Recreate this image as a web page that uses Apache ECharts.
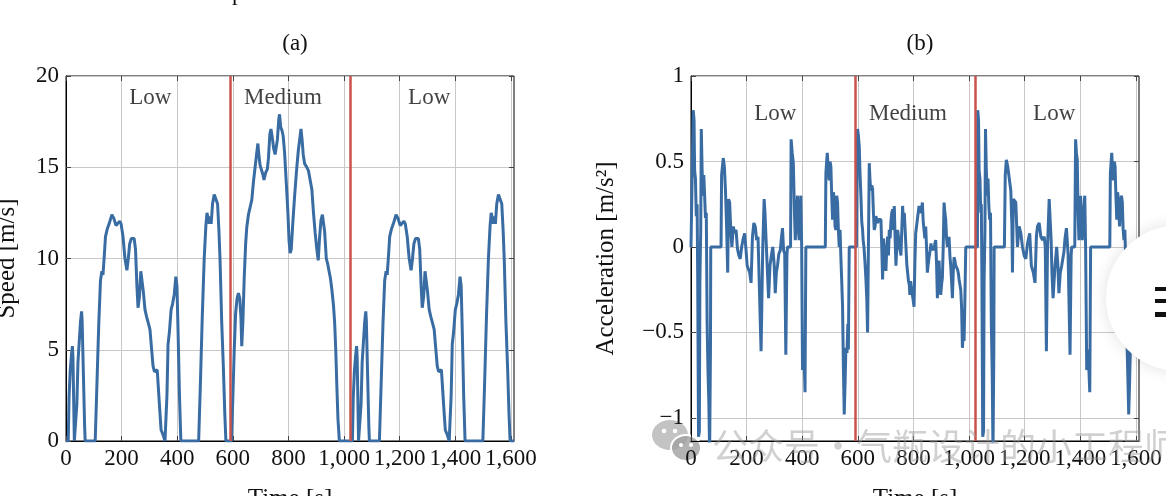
<!DOCTYPE html>
<html><head><meta charset="utf-8">
<script src="https://cdn.jsdelivr.net/npm/echarts@6/dist/echarts.min.js"></script>
<style>html,body{margin:0;padding:0;background:#fff}#c{width:1166px;height:496px}</style>
</head><body><div id="c"></div>
<script>
// ---------- data ----------
const speedTime = [0,8,11,15,19,23,25,30,36,39,43,47,52,56,58,62,67,69,
105,112,118,124,129,133,137,142,148,155,165,172,180,186,193,198,205,212,219,224,229,235,245,250,255,259,264,269,273,278,284,290,297,302,308,313,318,323,328,333,338,342,350,356,
359,363,367,372,378,383,389,395,399,403,408,413,
477,483,490,497,503,507,511,515,518,522,527,533,540,545,550,554,560,566,571,575,
595,600,605,610,615,620,625,629,632,636,641,646,650,656,662,668,674,680,686,690,694,698,703,708,712,718,724,728,733,737,742,747,752,756,760,765,768,772,777,781,786,792,798,802,806,810,815,822,830,836,841,845,849,853,858,866,872,879,884,890,896,902,907,912,917,922,926,930,936,941,946,951,956,962,966,970,974,978,983,
1030,1033,1037,1041,1045,1047,1052,1058,1061,1065,1069,1074,1078,1080,1084,1089,1091,
1127,1134,1140,1146,1151,1155,1159,1164,1170,1177,1187,1194,1202,1208,1215,1220,1227,1234,1241,1246,1251,1257,1267,1272,1277,1281,1286,1291,1295,1300,1306,1312,1319,1324,1330,1335,1340,1345,1350,1355,1360,1364,1372,1378,
1381,1385,1389,1394,1400,1405,1411,1417,1421,1425,1430,1435,
1499,1505,1512,1519,1525,1529,1533,1537,1540,1544,1549,1555,1562,1567,1572,1576,1582,1588,1593,1597,1611];
const speedValue = [0,0,2.4,3.8,4.6,5.2,4.6,0,0,2.0,4.3,5.3,6.5,7.1,6.6,4.0,0.8,0,
0,3.5,6.5,8.8,9.3,9.1,10.0,11.2,11.6,11.9,12.4,12.2,11.8,11.9,12.05,11.9,11.2,10.0,9.35,10.0,10.8,11.1,11.1,10.5,8.5,7.3,7.9,9.3,9.4,8.2,7.2,6.8,6.4,6.1,5.0,4.1,3.8,3.7,3.9,3.8,1.5,0.6,0.3,0,
0,2.5,5.3,6.0,7.2,7.5,8.0,9.0,8.5,6.0,2.5,0,
0,3.0,6.8,10.0,11.8,12.5,12.4,11.9,12.3,11.9,13.0,13.5,13.5,13.0,11.5,9.9,6.5,4.0,1.5,0,
0,2.4,5.0,7.0,7.8,8.1,7.8,6.8,5.2,6.5,9.0,10.8,11.7,12.4,12.8,13.2,14.2,15.0,15.8,16.3,15.6,15.1,15.0,14.6,14.3,14.7,14.9,15.5,16.8,17.1,16.6,16.0,15.7,15.7,16.5,17.6,17.9,17.2,17.0,16.7,15.8,14.2,12.5,11.0,10.3,10.5,11.8,13.4,15.0,16.0,16.6,17.1,16.5,15.7,15.2,15.0,14.8,14.7,13.8,12.5,11.4,10.5,9.9,11.2,12.1,12.4,12.3,11.5,10.0,9.7,9.3,8.9,8.3,7.4,6.5,5.0,3.0,1.2,0,
0,2.4,3.8,4.6,5.2,4.6,0,0,2.0,4.3,5.3,6.5,7.1,6.6,4.0,0.8,0,
0,3.5,6.5,8.8,9.3,9.1,10.0,11.2,11.6,11.9,12.4,12.2,11.8,11.9,12.05,11.9,11.2,10.0,9.35,10.0,10.8,11.1,11.1,10.5,8.5,7.3,7.9,9.3,9.4,8.2,7.2,6.8,6.4,6.1,5.0,4.1,3.8,3.7,3.9,3.8,1.5,0.6,0.3,0,
0,2.5,5.3,6.0,7.2,7.5,8.0,9.0,8.5,6.0,2.5,0,
0,3.0,6.8,10.0,11.8,12.5,12.4,11.9,12.3,11.9,13.0,13.5,13.5,13.0,11.5,9.9,6.5,4.0,1.5,0,0];

const accelTime = [0,7,8,11,13,16,19,22,24,27,30,32,35,37,40,43,46,49,52,55,58,61,64,67,70,71,108,
110,116,120,124,128,132,135,139,143,147,152,157,162,167,172,177,182,188,193,198,202,207,211,216,221,226,231,236,241,246,252,258,263,266,270,275,279,284,289,294,299,303,307,311,316,321,325,329,333,337,341,345,347,358,
360,364,368,372,375,379,383,386,389,392,395,398,401,406,410,413,483,
485,490,494,497,500,503,506,509,512,515,518,521,524,527,530,533,536,539,542,545,548,551,554,557,561,564,566,569,595,
596,599,602,605,608,611,614,617,619,622,626,629,632,635,638,641,644,647,650,653,656,659,662,665,668,671,674,677,680,683,686,689,692,695,698,701,704,707,710,713,716,719,722,725,728,731,734,737,740,743,746,749,752,755,758,761,764,767,770,773,776,779,782,785,787,790,794,798,802,805,808,811,814,817,820,823,826,829,832,835,838,841,844,847,850,853,856,860,863,866,870,874,877,880,883,886,889,892,895,898,901,904,907,910,913,916,919,922,925,928,931,934,937,940,943,946,949,952,955,958,961,964,967,970,973,976,979,982,985,988,1030,
1031,1034,1036,1039,1042,1044,1046,1049,1052,1054,1057,1059,1062,1065,1068,1071,1074,1077,1080,1083,1086,1089,1090,1127,
1130,1134,1139,1144,1150,1154,1156,1159,1162,1168,1174,1180,1186,1192,1198,1204,1210,1218,1224,1231,1237,1242,1246,1252,1258,1264,1270,1274,1278,1282,1288,1295,1298,1302,1309,1315,1319,1323,1328,1333,1341,1345,1350,1356,1363,1367,1369,1380,
1383,1386,1389,1392,1395,1398,1401,1404,1407,1411,1416,1419,1423,1428,1434,1437,1506,
1508,1513,1516,1519,1522,1525,1528,1531,1534,1537,1541,1545,1548,1551,1554,1557,1560,1563,1565,1570,1574,1577,1580,1584,1586,1588,1591,1611];
const accelValue = [0,0,0.80,0.74,0.45,0.40,0.18,0.25,-0.15,-1.11,-1.08,-0.2,0.1,0.69,0.45,0.30,0.42,0.30,0.17,0.2,-0.45,-0.72,-0.9,-1.2,-0.6,0,0,
0.42,0.52,0.47,0.33,0.12,-0.15,0.28,0.26,0.10,0.0,0.12,0.08,0.1,-0.01,-0.05,-0.07,0.0,0.05,0.08,-0.02,-0.11,-0.12,-0.15,-0.21,0.06,0.14,0.12,0.04,0.06,0.05,-0.61,0.0,0.28,0.2,0.04,-0.15,-0.3,-0.11,-0.05,0.0,-0.1,-0.27,-0.15,-0.11,-0.04,-0.02,0.05,0.11,-0.02,-0.04,-0.63,-0.05,0,0,
0.63,0.55,0.49,0.2,0.04,0.2,0.3,0.1,0.04,0.2,0.3,0.0,-0.72,-0.6,-0.85,0,0,
0.43,0.55,0.45,0.39,0.5,0.47,0.3,0.16,0.32,0.28,0.12,0.1,0.3,0.26,0.1,0.0,0.1,-0.06,-0.2,-0.35,-0.7,-0.98,-0.8,-0.59,-0.62,-0.45,-0.6,0,0,
0.3,0.69,0.65,0.59,0.42,0.3,0.15,0.1,0.04,0.0,-0.1,-0.19,-0.3,-0.5,0.0,0.49,0.38,0.33,0.36,0.34,0.2,0.1,0.12,0.18,0.16,0.14,0.16,0.16,0.17,0.16,0.0,-0.19,0.05,-0.04,-0.08,-0.14,0.0,0.06,-0.05,0.1,0.05,0.15,0.2,0.22,0.1,0.24,0.05,-0.11,0.0,0.1,0.06,0.0,-0.02,-0.05,0.1,0.24,0.12,0.2,0.1,0.0,-0.1,-0.15,-0.2,-0.22,-0.28,-0.2,-0.26,-0.3,-0.35,-0.1,0.08,0.12,0.16,0.2,0.24,0.2,0.2,0.22,0.26,0.15,0.1,0.05,0.12,0.0,-0.15,-0.1,-0.06,-0.02,0.02,-0.02,0.0,-0.02,0.02,0.04,-0.1,-0.3,-0.12,-0.08,-0.2,-0.28,-0.22,-0.18,0.0,0.26,0.2,0.16,0.05,0.0,0.03,0.06,-0.05,-0.11,-0.2,-0.3,-0.15,-0.06,-0.08,-0.11,-0.1,-0.13,-0.15,-0.19,-0.22,-0.25,-0.35,-0.59,-0.5,-0.55,-0.3,0,0,
0.80,0.74,0.45,0.40,0.2,0.25,-0.15,-1.11,-1.08,-0.2,0.1,0.69,0.45,0.3,0.4,0.24,0.16,0.2,-0.45,-0.72,-1.2,-0.6,0,0,
0.42,0.51,0.47,0.47,0.33,0.12,-0.15,0.28,0.28,0.26,0.0,0.12,0.08,0.0,-0.05,-0.07,0.02,0.08,-0.11,-0.15,-0.21,0.06,0.12,0.14,0.06,0.04,0.06,0.0,-0.61,0.0,0.28,0.04,-0.15,-0.3,-0.11,0.0,-0.1,-0.27,-0.15,-0.11,-0.03,0.05,0.11,-0.04,-0.63,-0.05,0,0,
0.63,0.55,0.51,0.2,0.04,0.2,0.3,0.1,0.04,0.2,0.3,0.0,-0.72,-0.6,-0.85,0,0,
0.43,0.55,0.45,0.39,0.5,0.47,0.3,0.16,0.32,0.28,0.12,0.24,0.3,0.26,0.1,0.04,0.1,-0.06,-0.35,-0.7,-0.98,-0.8,-0.59,-0.62,-0.45,-0.6,0,0];

const phaseBounds = [589, 1022];
const phaseNames = ['Low', 'Medium', 'Low'];
const phaseLabelTime = [303, 780, 1306];
const speedLabelY = 18.8;
const accelLabelY = 0.78;
const timeTicks = [0, 200, 400, 600, 800, 1000, 1200, 1400, 1600];
const speedTicks = [0, 5, 10, 15, 20];
const accelTicks = [-1, -0.5, 0, 0.5, 1];
const panelTitles = ['(a)', '(b)'];

// ---------- chart ----------
const FONT = 'Liberation Serif';
const BLUE = '#3a6ca4';
const RED = '#c9524b';
const GRID = '#c8c8c8';
const fmtNum = v => {
  const s = Math.abs(v) >= 1000 ? Math.round(v).toLocaleString('en-US') : String(v);
  return s.replace('-', '\u2212');
};
const pairs = (xs, ys) => xs.map((t, i) => [t, ys[i]]);

function xAx(grid, top) {
  return {
    type: 'value', gridIndex: grid, min: 0, max: 1611, position: top ? 'top' : 'bottom',
    axisLine: { show: !top, onZero: false, lineStyle: { color: '#000', width: 1 } },
    axisTick: { show: true, inside: true, length: 5, customValues: timeTicks, lineStyle: { color: '#444' } },
    axisLabel: { show: !top, customValues: timeTicks, formatter: fmtNum, fontFamily: FONT, fontSize: 23, color: '#111', margin: 6 },
    splitLine: { show: !top, lineStyle: { color: GRID, width: 1 } },
    name: top ? '' : 'Time [s]', nameLocation: 'middle', nameGap: 46,
    nameTextStyle: { fontFamily: FONT, fontSize: 25, color: '#111' }
  };
}
function yAx(grid, right, min, max, ticks, name, gap) {
  return {
    type: 'value', gridIndex: grid, min: min, max: max, position: right ? 'right' : 'left',
    axisLine: { show: !right, onZero: false, lineStyle: { color: '#000', width: 1 } },
    axisTick: { show: true, inside: true, length: 5, customValues: ticks, lineStyle: { color: '#444' } },
    axisLabel: { show: !right, customValues: ticks, formatter: fmtNum, fontFamily: FONT, fontSize: 23, color: '#111', margin: 7 },
    splitLine: { show: !right, lineStyle: { color: GRID, width: 1 } },
    name: right ? '' : name, nameLocation: 'middle', nameGap: gap, nameRotate: 90,
    nameTextStyle: { fontFamily: FONT, fontSize: 25, color: '#111' }
  };
}
function phaseLabels(xi, yi, yv) {
  return {
    type: 'scatter', xAxisIndex: xi, yAxisIndex: yi, symbolSize: 0, silent: true, z: 5,
    data: phaseLabelTime.map((t, i) => ({ value: [t, yv], name: phaseNames[i] })),
    label: { show: true, position: 'inside', formatter: p => p.name, fontFamily: FONT, fontSize: 23, color: '#111' }
  };
}
function boundLines() {
  return {
    silent: true, symbol: 'none', label: { show: false },
    lineStyle: { color: RED, width: 2.5, type: 'solid' },
    data: phaseBounds.map(b => ({ xAxis: b }))
  };
}

const chart = echarts.init(document.getElementById('c'), null, { renderer: 'canvas' });
chart.setOption({
  animation: false,
  backgroundColor: '#fff',
  title: [
    { text: panelTitles[0], left: 290, top: 27, textAlign: 'center', textStyle: { fontFamily: FONT, fontSize: 23, fontWeight: 'normal', color: '#111' } },
    { text: panelTitles[1], left: 915, top: 27, textAlign: 'center', textStyle: { fontFamily: FONT, fontSize: 23, fontWeight: 'normal', color: '#111' } }
  ],
  grid: [
    { left: 66, top: 76, width: 448, height: 365, outerBoundsMode: 'none', containLabel: false, show: true, borderColor: '#000', borderWidth: 1, backgroundColor: 'transparent' },
    { left: 691, top: 76, width: 448, height: 365, outerBoundsMode: 'none', containLabel: false, show: true, borderColor: '#000', borderWidth: 1, backgroundColor: 'transparent' }
  ],
  xAxis: [xAx(0, false), xAx(1, false), xAx(0, true), xAx(1, true)],
  yAxis: [
    yAx(0, false, 0, 20, speedTicks, 'Speed [m/s]', 46),
    yAx(1, false, -1.135, 1, accelTicks, 'Acceleration [m/s\u00B2]', 72),
    yAx(0, true, 0, 20, speedTicks, '', 0),
    yAx(1, true, -1.135, 1, accelTicks, '', 0)
  ],
  series: [
    { type: 'line', xAxisIndex: 0, yAxisIndex: 0, data: pairs(speedTime, speedValue), showSymbol: false,
      lineStyle: { color: BLUE, width: 3 }, z: 3, markLine: boundLines() },
    { type: 'line', xAxisIndex: 1, yAxisIndex: 1, data: pairs(accelTime, accelValue), showSymbol: false,
      lineStyle: { color: BLUE, width: 3 }, z: 3, markLine: boundLines() },
    phaseLabels(0, 0, speedLabelY),
    phaseLabels(1, 1, accelLabelY)
  ],
  graphic: [
    { type: 'text', left: 232, top: -18, style: { text: 'p', font: '23px "Liberation Serif"', fill: '#111' } },
    // WeChat-style watermark
    { type: 'group', left: 652, top: 420, z: 100, children: [
      { type: 'ellipse', shape: { cx: 18, cy: 16, rx: 18, ry: 15 }, style: { fill: 'rgba(170,170,170,0.7)' } },
      { type: 'ellipse', shape: { cx: 34, cy: 29, rx: 15, ry: 13 }, style: { fill: 'rgba(160,160,160,0.8)', stroke: '#fff', lineWidth: 2 } },
      { type: 'circle', shape: { cx: 12, cy: 12, r: 2.3 }, style: { fill: '#fff' } },
      { type: 'circle', shape: { cx: 23, cy: 12, r: 2.3 }, style: { fill: '#fff' } },
      { type: 'circle', shape: { cx: 29, cy: 26, r: 2 }, style: { fill: '#fff' } },
      { type: 'circle', shape: { cx: 39, cy: 26, r: 2 }, style: { fill: '#fff' } }
    ] },
    { type: 'text', left: 712, top: 428, z: 100, style: { text: '公众号·气瓶设计的小工程师', font: '36px "Noto Sans CJK SC"', fill: 'rgba(150,150,150,0.45)' } },
    // floating round button at the right edge
    { type: 'circle', z: 100, shape: { cx: 1179, cy: 298, r: 73 },
      style: { fill: '#fff', shadowBlur: 16, shadowColor: 'rgba(0,0,0,0.12)' } },
    { type: 'rect', z: 101, shape: { x: 1155, y: 287, width: 14, height: 4 }, style: { fill: '#111' } },
    { type: 'rect', z: 101, shape: { x: 1155, y: 299, width: 14, height: 4 }, style: { fill: '#111' } },
    { type: 'rect', z: 101, shape: { x: 1155, y: 312, width: 14, height: 5 }, style: { fill: '#111' } }
  ]
});
</script></body></html>
